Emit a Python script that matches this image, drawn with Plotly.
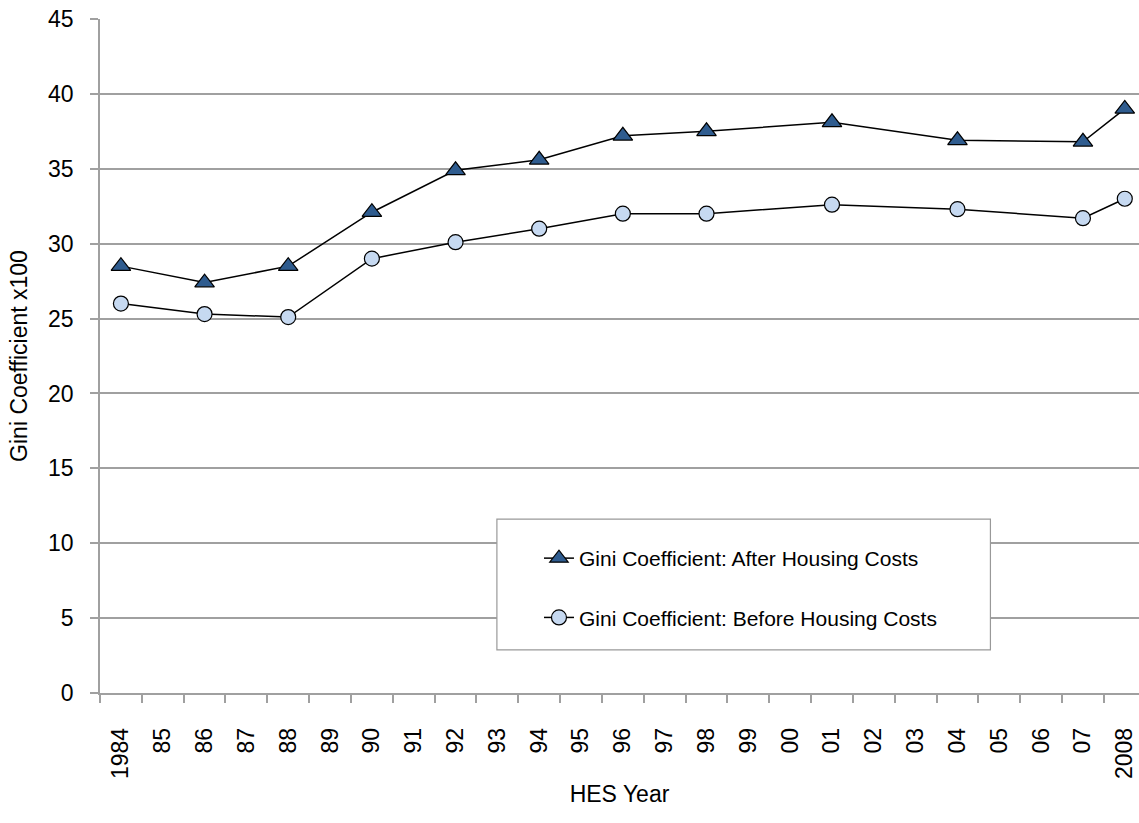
import plotly.graph_objects as go

categories = ["1984", "85", "86", "87", "88", "89", "90", "91", "92", "93", "94", "95",
              "96", "97", "98", "99", "00", "01", "02", "03", "04", "05", "06", "07", "2008"]
survey_years = ["1984", "86", "88", "90", "92", "94", "96", "98", "01", "04", "07", "2008"]
gini_ahc = [28.5, 27.4, 28.5, 32.1, 34.9, 35.6, 37.2, 37.5, 38.1, 36.9, 36.8, 39.0]
gini_bhc = [26.0, 25.3, 25.1, 29.0, 30.1, 31.0, 32.0, 32.0, 32.6, 32.3, 31.7, 33.0]
y_ticks = [0, 5, 10, 15, 20, 25, 30, 35, 40, 45]

FONT = "Liberation Sans, Arial, sans-serif"
GRID = "#A0A0A0"
FS = 23

fig = go.Figure()
fig.add_trace(go.Scatter(
    x=survey_years, y=gini_ahc, mode="lines+markers",
    name="Gini Coefficient: After Housing Costs", legendgroup="a",
    line=dict(color="black", width=1.5),
    marker=dict(symbol="triangle-up", size=17, color="#2F5C8F",
                line=dict(color="black", width=1.2)),
))
fig.add_trace(go.Scatter(
    x=survey_years, y=gini_bhc, mode="lines+markers",
    name="Gini Coefficient: Before Housing Costs", legendgroup="b",
    line=dict(color="black", width=1.5),
    marker=dict(symbol="circle", size=15, color="#C6D9F1",
                line=dict(color="black", width=1.2)),
))

fig.add_shape(type="rect", xref="paper", yref="paper",
              x0=0.382, x1=0.857, y0=0.064, y1=0.258,
              line=dict(color="#999999", width=1.2), fillcolor="white", layer="above")

fig.update_layout(
    width=1139, height=823,
    margin=dict(l=100, r=0, t=19, b=130),
    paper_bgcolor="white", plot_bgcolor="white",
    font=dict(family=FONT, size=FS, color="black"),
    showlegend=True,
    legend=dict(x=0.4225, y=0.230, xanchor="left", yanchor="top",
                bgcolor="rgba(0,0,0,0)", borderwidth=0,
                font=dict(family=FONT, size=21, color="black"),
                tracegroupgap=29, traceorder="grouped", itemwidth=30),
    xaxis=dict(type="category", categoryorder="array", categoryarray=categories,
               tickmode="array", tickvals=categories, ticktext=categories,
               range=[-0.5, 24.34], tickangle=-90, tickson="boundaries",
               ticks="outside", ticklen=8, tickcolor=GRID, tickwidth=1.5,
               showline=True, linecolor=GRID, linewidth=1.5, showgrid=False,
               automargin=False, ticklabelstandoff=24,
               title=dict(text="HES Year", standoff=8, font=dict(size=FS)),
               tickfont=dict(size=FS)),
    yaxis=dict(range=[0, 45], tickmode="array", tickvals=y_ticks,
               ticks="outside", ticklen=8, tickcolor=GRID, tickwidth=1.5,
               showline=True, linecolor=GRID, linewidth=1.5,
               showgrid=True, gridcolor=GRID, gridwidth=1.5, zeroline=False,
               automargin=False, ticklabelstandoff=12,
               title=dict(text="Gini Coefficient x100", standoff=14, font=dict(size=FS)),
               tickfont=dict(size=FS)),
)

fig.write_html("out.html", config={"displayModeBar": False},
               post_script="document.body.style.margin='0px';document.body.style.overflow='hidden';")
